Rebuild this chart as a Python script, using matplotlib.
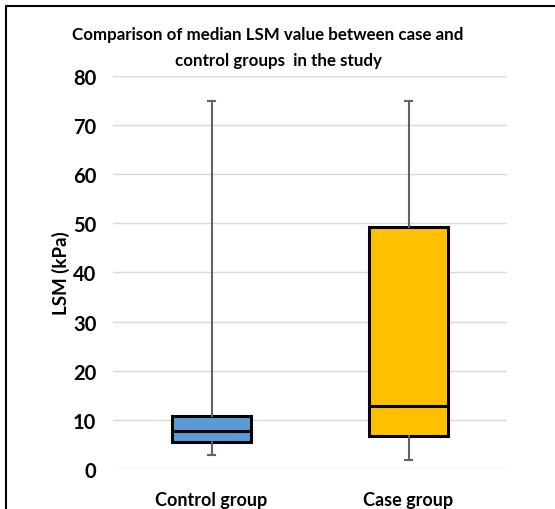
import matplotlib
matplotlib.use("Agg")
import matplotlib.pyplot as plt
from matplotlib.patches import Rectangle

plt.rcParams['font.family'] = ['Lato', 'DejaVu Sans']

categories = ["Control group", "Case group"]
whisker_low = [2.7, 1.7]
q1 = [5.35, 6.7]
median = [7.6, 12.7]
q3 = [10.7, 49.2]
whisker_high = [75, 75]
colors = ["#5B9BD5", "#FFC000"]
yticks = [0, 10, 20, 30, 40, 50, 60, 70, 80]

fig = plt.figure(figsize=(5.55, 5.10), dpi=100)
ax = fig.add_axes([113/555, 1-470/510, 394/555, (470-77)/510])

stats = []
for i, c in enumerate(categories):
    stats.append(dict(label=c, whislo=whisker_low[i], q1=q1[i], med=median[i],
                      q3=q3[i], whishi=whisker_high[i], fliers=[]))

bp = ax.bxp(stats, positions=[1, 2], widths=0.40, patch_artist=True,
            showfliers=False,
            boxprops=dict(edgecolor="black", linewidth=2.2),
            medianprops=dict(color="black", linewidth=2.2),
            whiskerprops=dict(color="#636363", linewidth=1.5),
            capprops=dict(color="#636363", linewidth=1.5),
            capwidths=0.035, zorder=3)
for patch, col in zip(bp['boxes'], colors):
    patch.set_facecolor(col)

ax.set_xlim(0.5, 2.5)
ax.set_ylim(-0.1, 80.1)
ax.set_yticks(yticks)
ax.set_yticklabels([str(t) for t in yticks], fontsize=14.5, fontweight='bold')
ax.set_xticks([1, 2])
ax.set_xticklabels(categories, fontsize=13, fontweight='bold')
ax.tick_params(axis='y', length=0, pad=12)
ax.tick_params(axis='x', length=0, pad=16)
ax.grid(axis='y', color="#D9D9D9", linewidth=1, zorder=0)
ax.set_axisbelow(True)
for s in ax.spines.values():
    s.set_visible(False)

ax.set_ylabel("LSM (kPa)", fontsize=13.5, fontweight='bold', labelpad=2)

fig.text(268/555, 1-35/510, "Comparison of median LSM value between case and",
         ha='center', va='center', fontsize=12.2, fontweight='bold')
fig.text(278/555, 1-61/510, "control groups  in the study",
         ha='center', va='center', fontsize=12.2, fontweight='bold')

fig.patches.append(Rectangle((6/555, -0.1), 1.2, 1 - 7/510 + 0.1,
                             transform=fig.transFigure, fill=False,
                             edgecolor="black", linewidth=1.5))

fig.savefig("out.png", dpi=100)
